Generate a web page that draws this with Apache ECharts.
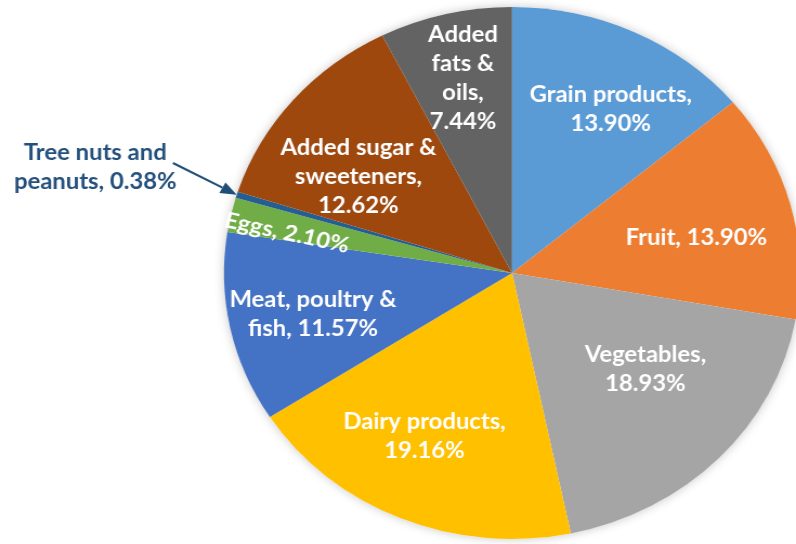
<!DOCTYPE html>
<html>
<head>
<meta charset="utf-8">
<script src="https://cdn.jsdelivr.net/npm/echarts@6/dist/echarts.min.js"></script>
<style>
  html, body { margin: 0; padding: 0; background: #ffffff; overflow: hidden; }
  /* the pie is drawn as a circle and widened into an ellipse */
  #chart { width: 735px; height: 544px; transform: scaleX(1.083); transform-origin: 0 0; }
</style>
</head>
<body>
<div id="chart"></div>
<script>
// Food groups, clockwise from 12 o'clock
const categories = [
  'Grain products', 'Fruit', 'Vegetables', 'Dairy products',
  'Meat, poultry & fish', 'Eggs', 'Tree nuts and peanuts',
  'Added sugar & sweeteners', 'Added fats & oils'
];
// Share of each group, percent
const shares = [13.90, 13.90, 18.93, 19.16, 11.57, 2.10, 0.38, 12.62, 7.44];
// Label text; {v} is replaced with the share
const labelTemplates = [
  'Grain products,\n{v}', 'Fruit, {v}', 'Vegetables,\n{v}', 'Dairy products,\n{v}',
  'Meat, poultry &\nfish, {v}', 'Eggs, {v}', 'Tree nuts and\npeanuts, {v}',
  'Added sugar &\nsweeteners,\n{v}', 'Added\nfats &\noils,\n{v}'
];
const sliceColors = [
  '#5B9BD5', '#ED7D31', '#A5A5A5', '#FFC000', '#4472C4',
  '#70AD47', '#255E91', '#9E480E', '#636363'
];
// Label anchor points (chart pixels)
const labelAnchors = [
  [564, 109], [643, 238], [596, 369], [392, 436], [289, 314],
  [265, 233], [88, 167], [331, 177], [427.5, 78]
];

const CX = 472.8, CY = 273, R = 266;
const CALLOUT = 6;          // slice labelled outside with an arrow
const EGGS = 5;             // thin slice with a tilted label

function labelText(i) {
  return labelTemplates[i].replace('{v}', shares[i].toFixed(2) + '%');
}

// arrow tip on the rim at the middle of the callout slice
const total = shares.reduce((a, b) => a + b, 0);
let before = 0;
for (let i = 0; i < CALLOUT; i++) before += shares[i];
const midAngle = (before + shares[CALLOUT] / 2) / total * 2 * Math.PI;
const tip = [CX + R * Math.sin(midAngle), CY - R * Math.cos(midAngle)];
const tail = [159.7, 163];
const dx = tip[0] - tail[0], dy = tip[1] - tail[1];
const len = Math.sqrt(dx * dx + dy * dy);
const ux = dx / len, uy = dy / len;
const headLen = 15, headHalf = 6;
const base = [tip[0] - ux * headLen, tip[1] - uy * headLen];
const arrowHead = [
  tip,
  [base[0] - uy * headHalf, base[1] + ux * headHalf],
  [base[0] + uy * headHalf, base[1] - ux * headHalf]
];

const FONT = 'Lato, "Open Sans", sans-serif';

const data = categories.map((name, i) => {
  const item = {
    name: name,
    value: shares[i],
    itemStyle: { color: sliceColors[i] },
    label: { formatter: labelText(i) }
  };
  if (i === CALLOUT) item.label.color = '#23507C';
  if (i === EGGS) item.label.rotate = -13;
  return item;
});

const chart = echarts.init(document.getElementById('chart'), null, { renderer: 'canvas' });
chart.setOption({
  backgroundColor: '#ffffff',
  animation: false,
  series: [
    {
      // soft halo under the pie
      type: 'pie',
      silent: true,
      center: [CX, CY],
      radius: R,
      z: 1,
      label: { show: false },
      labelLine: { show: false },
      data: [{ value: 1, itemStyle: { color: '#ffffff', shadowBlur: 10, shadowColor: 'rgba(0,0,0,0.22)' } }]
    },
    {
      type: 'pie',
      z: 2,
      center: [CX, CY],
      radius: R,
      startAngle: 90,
      clockwise: true,
      avoidLabelOverlap: false,
      itemStyle: { borderWidth: 0 },
      label: {
        show: true,
        position: 'inside',
        color: '#ffffff',
        fontFamily: FONT,
        fontWeight: 'bold',
        fontSize: 22,
        lineHeight: 29,
        align: 'center'
      },
      labelLine: { show: false },
      labelLayout: function (params) {
        const p = labelAnchors[params.dataIndex];
        return { x: p[0], y: p[1], align: 'center', verticalAlign: 'middle' };
      },
      data: data
    }
  ],
  graphic: [
    {
      type: 'line',
      z: 10,
      shape: { x1: tail[0], y1: tail[1], x2: base[0], y2: base[1] },
      style: { stroke: '#1F4E79', lineWidth: 2 }
    },
    {
      type: 'polygon',
      z: 10,
      shape: { points: arrowHead },
      style: { fill: '#1F4E79' }
    }
  ]
});
</script>
</body>
</html>
